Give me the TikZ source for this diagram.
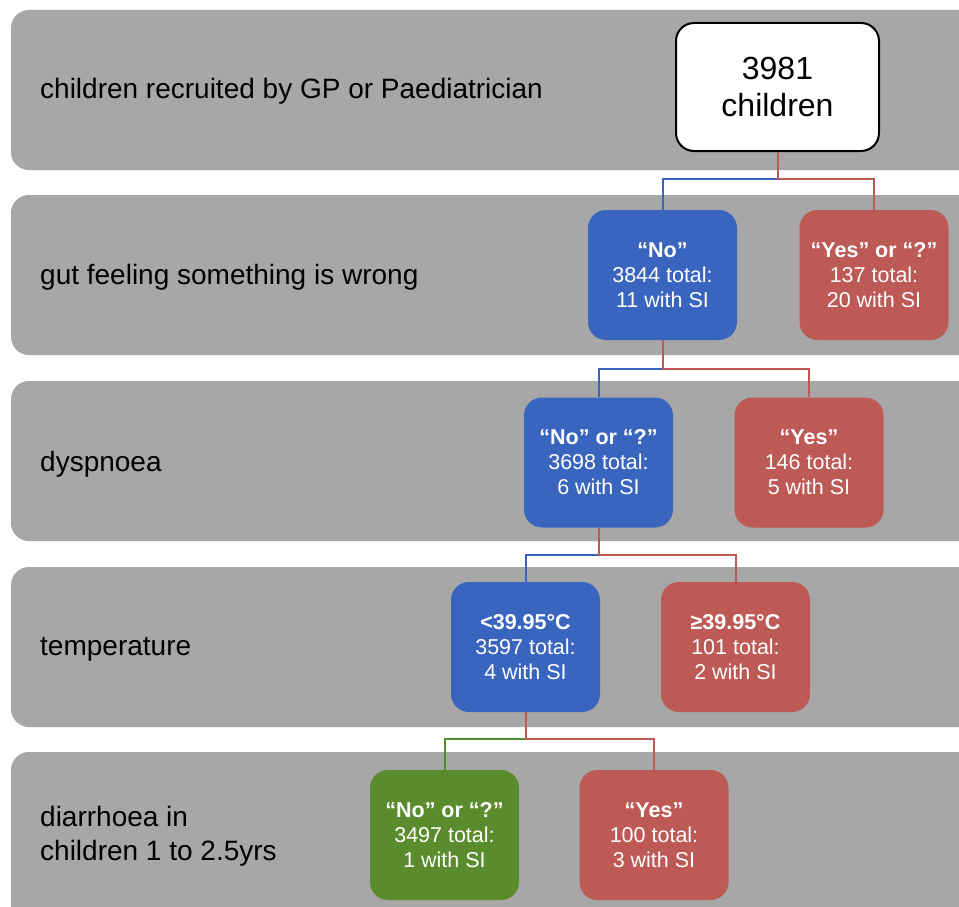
\documentclass[tikz,border=0pt]{standalone}
\usepackage{fontspec}
\setmainfont{Liberation Sans}
\definecolor{bandgray}{HTML}{A6A7A6}
\definecolor{boxblue}{HTML}{3A65BF}
\definecolor{boxred}{HTML}{BD5A56}
\definecolor{boxgreen}{HTML}{5A8B2C}
\begin{document}
\begin{tikzpicture}[x=1pt,y=-1pt,
  band/.style={fill=bandgray,rounded corners=18pt},
  rowlabel/.style={anchor=west,inner sep=0pt,font=\fontsize{28}{34}\selectfont,align=left},
  choice/.style={rounded corners=18pt,minimum width=149pt,minimum height=130pt,text=white,align=center,inner sep=0pt,font=\fontsize{21.5}{25}\selectfont},
  bluebox/.style={choice,fill=boxblue},
  redbox/.style={choice,fill=boxred},
  greenbox/.style={choice,fill=boxgreen},
  bl/.style={draw=boxblue,line width=2pt},
  rl/.style={draw=boxred,line width=2pt},
  gl/.style={draw=boxgreen,line width=2pt}
]
\useasboundingbox (0,0) rectangle (959,907);
\clip (0,0) rectangle (959,907);
\fill[white] (0,0) rectangle (959,907);
% bands
\fill[band] (11,10) rectangle (1000,170);
\fill[band] (11,195) rectangle (1000,355);
\fill[band] (11,381) rectangle (1000,541);
\fill[band] (11,567) rectangle (1000,727);
\fill[band] (11,752) rectangle (1000,960);
% row labels
\node[rowlabel] (l1) at (40,91) {children recruited by GP or Paediatrician};
\node[rowlabel] (l2) at (40,277) {gut feeling something is wrong};
\node[rowlabel] (l3) at (40,464) {dyspnoea};
\node[rowlabel] (l4) at (40,649) {temperature};
\node[rowlabel] (l5) at (40,836) {diarrhoea in\\children 1 to 2.5yrs};
% boxes
\node[draw=black,line width=2pt,fill=white,rounded corners=18pt,minimum width=203pt,minimum height=128pt,align=center,inner sep=0pt,font=\fontsize{32}{37}\selectfont] (top) at (777.5,87) {3981\\children};
\node[bluebox] (b2) at (662.5,275) {\textbf{“No”}\\3844 total:\\11 with SI};
\node[redbox] (r2) at (874,275) {\textbf{“Yes” or “?”}\\137 total:\\20 with SI};
\node[bluebox] (b3) at (598.5,462.5) {\textbf{“No” or “?”}\\3698 total:\\6 with SI};
\node[redbox] (r3) at (809,462.5) {\textbf{“Yes”}\\146 total:\\5 with SI};
\node[bluebox] (b4) at (525.5,647) {\textbf{<39.95°C}\\3597 total:\\4 with SI};
\node[redbox] (r4) at (735.5,647) {\textbf{≥39.95°C}\\101 total:\\2 with SI};
\node[greenbox] (g5) at (444.5,835) {\textbf{“No” or “?”}\\3497 total:\\1 with SI};
\node[redbox] (r5) at (654,835) {\textbf{“Yes”}\\100 total:\\3 with SI};
% junctions
\coordinate (j1) at (777.5,179);
\coordinate (j2) at (662.5,369);
\coordinate (j3) at (598.5,555);
\coordinate (j4) at (525.5,739);
% connectors
\draw[bl] (j1) -| (b2.north);
\draw[rl] (top.south) -- (j1) -| (r2.north);
\draw[bl] (j2) -| (b3.north);
\draw[rl] (b2.south) -- (j2) -| (r3.north);
\draw[bl] (j3) -| (b4.north);
\draw[rl] (b3.south) -- (j3) -| (r4.north);
\draw[gl] (j4) -| (g5.north);
\draw[rl] (b4.south) -- (j4) -| (r5.north);
\end{tikzpicture}
\end{document}
